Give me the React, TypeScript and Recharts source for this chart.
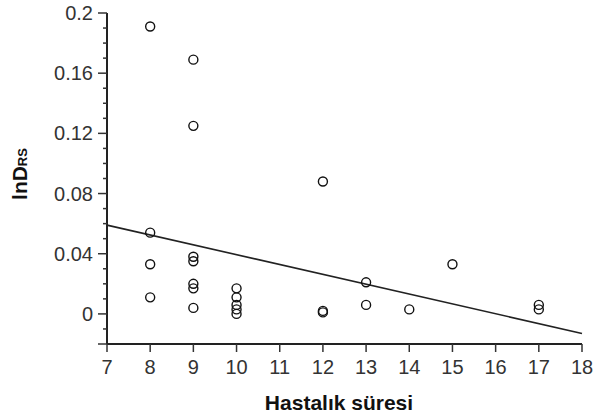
import React from 'react';
import { ScatterChart, Scatter, XAxis, YAxis, ReferenceLine } from 'recharts';

// duration (years) vs lnD_RS
const durations = [8, 8, 8, 8, 9, 9, 9, 9, 9, 9, 9, 10, 10, 10, 10, 10, 12, 12, 12, 13, 13, 14, 15, 17, 17];
const lnDrs = [0.191, 0.054, 0.033, 0.011, 0.169, 0.125, 0.038, 0.035, 0.02, 0.017, 0.004, 0.017, 0.011, 0.006, 0.003, 0.0, 0.088, 0.001, 0.002, 0.021, 0.006, 0.003, 0.033, 0.006, 0.003];

// fitted regression line endpoints
const fitX = [7, 18];
const fitY = [0.059, -0.013];

const xTicks = [7, 8, 9, 10, 11, 12, 13, 14, 15, 16, 17, 18];
const yTicks = [-0.02, -0.01, 0, 0.01, 0.02, 0.03, 0.04, 0.05, 0.06, 0.07, 0.08, 0.09, 0.1, 0.11, 0.12, 0.13, 0.14, 0.15, 0.16, 0.17, 0.18, 0.19, 0.2];
const yLabels = ['0', '0.04', '0.08', '0.12', '0.16', '0.2'];

const points = durations.map((d, i) => ({ x: d, y: lnDrs[i] }));

const FONT = '"Liberation Sans", Arial, sans-serif';

const YTick = (props: any) => {
  const { x, y, payload } = props;
  const v = payload.value as number;
  const label = yLabels.find((l) => Math.abs(parseFloat(l) - v) < 1e-9);
  const major = label !== undefined || Math.abs(v + 0.02) < 1e-9;
  return (
    <g>
      <line x1={x - (major ? 9 : 4)} x2={x} y1={y} y2={y} stroke="#333" strokeWidth={1.5} />
      {label !== undefined && (
        <text x={x - 14} y={y} dy="0.35em" textAnchor="end" fontSize={20} fill="#333" fontFamily={FONT}>
          {label}
        </text>
      )}
    </g>
  );
};

const XTick = (props: any) => {
  const { x, y, payload } = props;
  return (
    <g>
      <line x1={x} x2={x} y1={y} y2={y + 8} stroke="#333" strokeWidth={1.5} />
      <text x={x} y={y + 23} dy="0.35em" textAnchor="middle" fontSize={20} fill="#333" fontFamily={FONT}>
        {payload.value}
      </text>
    </g>
  );
};

const Ring = (props: any) => (
  <circle cx={props.cx} cy={props.cy} r={4.5} fill="none" stroke="#111" strokeWidth={1.4} />
);

export default function App() {
  return (
    <div style={{ position: 'absolute', left: 0, top: 0, background: '#fff' }}>
      <ScatterChart width={597} height={418} margin={{ top: 13, right: 15, bottom: 0, left: 0 }}>
        <XAxis
          type="number"
          dataKey="x"
          domain={[7, 18]}
          ticks={xTicks}
          interval={0}
          height={74}
          tickSize={0}
          tickMargin={0}
          tickLine={false}
          axisLine={{ stroke: '#222', strokeWidth: 2 }}
          tick={<XTick />}
          label={{
            content: () => (
              <text x={339} y={410} textAnchor="middle" fontSize={21} fontWeight="bold" fill="#111" fontFamily={FONT}>
                Hastalık süresi
              </text>
            ),
          }}
        />
        <YAxis
          type="number"
          dataKey="y"
          domain={[-0.02, 0.2]}
          ticks={yTicks}
          interval={0}
          width={107}
          tickSize={0}
          tickMargin={0}
          tickLine={false}
          axisLine={{ stroke: '#222', strokeWidth: 2 }}
          tick={<YTick />}
          label={{
            content: () => (
              <text
                x={27}
                y={174}
                transform="rotate(-90, 27, 174)"
                textAnchor="middle"
                fontSize={21}
                fontWeight="bold"
                fill="#111"
                fontFamily={FONT}
              >
                lnD<tspan fontSize={13}>RS</tspan>
              </text>
            ),
          }}
        />
        <ReferenceLine
          segment={[
            { x: fitX[0], y: fitY[0] },
            { x: fitX[1], y: fitY[1] },
          ]}
          stroke="#222"
          strokeWidth={1.6}
        />
        <Scatter data={points} shape={<Ring />} isAnimationActive={false} />
      </ScatterChart>
    </div>
  );
}
